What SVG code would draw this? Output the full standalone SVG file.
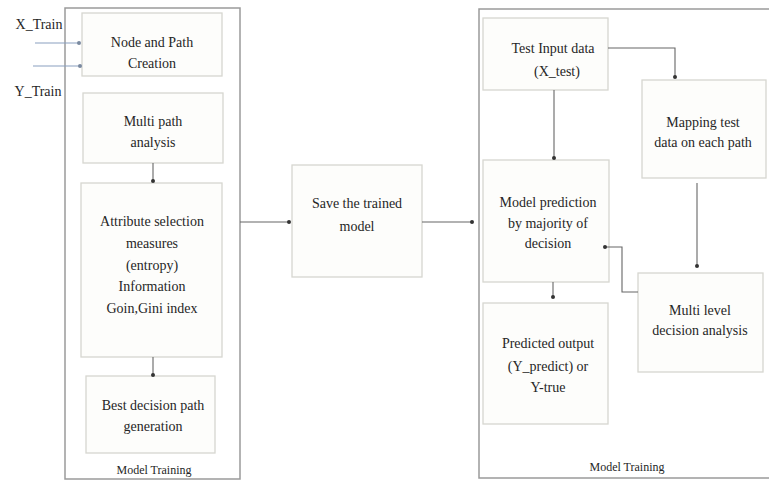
<svg xmlns="http://www.w3.org/2000/svg" width="769" height="483" viewBox="0 0 769 483">
<defs>
<style>
.c{fill:#fff;stroke:#9a9a9a;stroke-width:1.5}
.b{fill:#fdfdfb;stroke:#d6d6d0;stroke-width:1.3}
.t{font-family:"Liberation Serif","Times New Roman",serif;font-size:14px;fill:#262626;text-anchor:middle}
.s{font-size:12px}
.l{fill:none;stroke:#666;stroke-width:1.1}
.in{fill:none;stroke:#8aa0c0;stroke-width:1.1}
</style>
<marker id="d" viewBox="0 0 6 6" refX="3" refY="3" markerWidth="4" markerHeight="4" markerUnits="userSpaceOnUse"><circle cx="3" cy="3" r="3" fill="#333"/></marker>
<marker id="db" viewBox="0 0 6 6" refX="3" refY="3" markerWidth="4" markerHeight="4" markerUnits="userSpaceOnUse"><circle cx="3" cy="3" r="3" fill="#7a8aa0"/></marker>
</defs>
<rect width="769" height="483" fill="#fff"/>
<g id="leftContainer">
<rect class="c" x="65" y="8" width="175" height="471"/>
<text class="t s" x="154" y="474">Model Training</text>
</g>
<g id="rightContainer">
<rect class="c" x="479" y="9" width="300" height="469"/>
<text class="t s" x="627" y="471">Model Training</text>
</g>
<g id="inputs">
<text class="t" x="39" y="29">X_Train</text>
<text class="t" x="38" y="96">Y_Train</text>
</g>
<g id="nodeCreation">
<rect class="b" x="82" y="13" width="140" height="63"/>
<text class="t" x="152" y="47">Node and Path</text>
<text class="t" x="152" y="68">Creation</text>
</g>
<g id="multiPath">
<rect class="b" x="83" y="93" width="140" height="70"/>
<text class="t" x="153" y="126">Multi path</text>
<text class="t" x="153" y="147">analysis</text>
</g>
<g id="attribute">
<rect class="b" x="81" y="183" width="141" height="174"/>
<text class="t" x="152" y="226">Attribute selection</text>
<text class="t" x="152" y="248">measures</text>
<text class="t" x="152" y="270">(entropy)</text>
<text class="t" x="152" y="291">Information</text>
<text class="t" x="152" y="313">Goin,Gini index</text>
</g>
<g id="bestPath">
<rect class="b" x="86" y="376" width="129" height="77"/>
<text class="t" x="153" y="410">Best decision path</text>
<text class="t" x="153" y="431">generation</text>
</g>
<g id="save">
<rect class="b" x="292" y="165" width="130" height="112"/>
<text class="t" x="357" y="208">Save the trained</text>
<text class="t" x="357" y="231">model</text>
</g>
<g id="testInput">
<rect class="b" x="483" y="18" width="125" height="72"/>
<text class="t" x="553" y="53">Test Input data</text>
<text class="t" x="557" y="76">(X_test)</text>
</g>
<g id="mapping">
<rect class="b" x="642" y="80" width="124" height="98"/>
<text class="t" x="703" y="127">Mapping test</text>
<text class="t" x="703" y="147">data on each path</text>
</g>
<g id="prediction">
<rect class="b" x="483" y="160" width="126" height="122"/>
<text class="t" x="548" y="207">Model prediction</text>
<text class="t" x="548" y="228">by majority of</text>
<text class="t" x="548" y="248">decision</text>
</g>
<g id="multiLevel">
<rect class="b" x="638" y="273" width="125" height="99"/>
<text class="t" x="700" y="315">Multi level</text>
<text class="t" x="700" y="335">decision analysis</text>
</g>
<g id="predicted">
<rect class="b" x="483" y="303" width="125" height="121"/>
<text class="t" x="548" y="348">Predicted output</text>
<text class="t" x="548" y="371">(Y_predict) or</text>
<text class="t" x="548" y="392">Y-true</text>
</g>
<g id="connectors">
<path class="in" d="M35 43H79" marker-end="url(#db)"/>
<path class="in" d="M33 66H80" marker-end="url(#db)"/>
<path class="l" d="M153 163V181" marker-end="url(#d)"/>
<path class="l" d="M153 357V375" marker-end="url(#d)"/>
<path class="l" d="M240 222H289" marker-end="url(#d)"/>
<path class="l" d="M422 222H472" marker-end="url(#d)"/>
<path class="l" d="M608 48H675V77" marker-end="url(#d)"/>
<path class="l" d="M554 90V158" marker-end="url(#d)"/>
<path class="l" d="M697 183V266" marker-end="url(#d)"/>
<path class="l" d="M638 292H622V247H605" marker-end="url(#d)"/>
<path class="l" d="M553 282V297" marker-end="url(#d)"/>
</g>
</svg>
